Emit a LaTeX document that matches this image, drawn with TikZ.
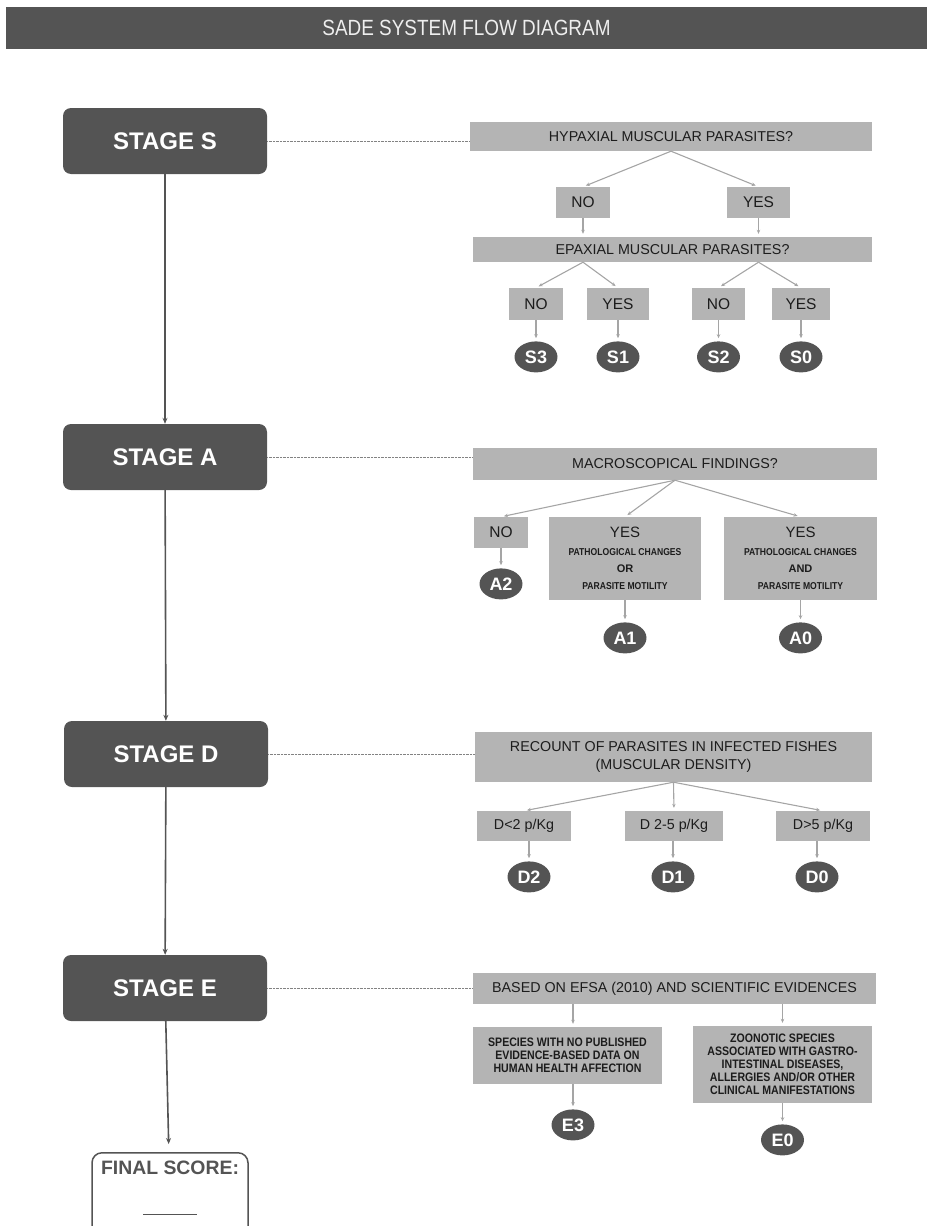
\documentclass[tikz,border=0pt]{standalone}
\usepackage{fontspec}
\setmainfont{Liberation Sans}
\newfontfamily\narrowfont[FakeStretch=0.86]{Liberation Sans}
\usetikzlibrary{positioning, shapes.geometric, arrows.meta}
\definecolor{stagegray}{RGB}{84,84,84}
\definecolor{boxgray}{RGB}{180,180,180}
\definecolor{textdark}{RGB}{28,28,28}
\definecolor{linegray}{RGB}{165,165,165}
\definecolor{dotgray}{RGB}{130,130,130}
\definecolor{titletext}{RGB}{238,238,238}

\begin{document}
\begin{tikzpicture}[
    x=1pt, y=-1pt,
    titlebar/.style={rectangle, fill=stagegray, text=titletext, minimum width=921pt, minimum height=42pt, font=\narrowfont\fontsize{22}{24}\selectfont},
    stagebox/.style={rectangle, rounded corners=8pt, fill=stagegray, text=white, minimum width=204pt, minimum height=66pt, font=\fontsize{24}{28}\selectfont\bfseries},
    finalbox/.style={rectangle, rounded corners=10pt, draw=stagegray, line width=1.5pt, fill=white, text=stagegray, minimum width=156pt, inner ysep=8pt, text depth=25pt, align=center, font=\fontsize{19.4}{22}\selectfont\bfseries},
    qbox/.style={rectangle, fill=boxgray, text=textdark, inner sep=0pt, align=center, font=\fontsize{14.3}{18}\selectfont},
    ansbox/.style={qbox, font=\fontsize{15.5}{18}\selectfont},
    notebox/.style={qbox, font=\narrowfont\fontsize{12.3}{13}\selectfont\bfseries},
    score/.style={ellipse, fill=stagegray, text=white, minimum width=43pt, minimum height=31pt, inner sep=0pt, font=\fontsize{18}{20}\selectfont\bfseries},
    link/.style={draw=dotgray, line width=0.9pt, dash pattern=on 0.7pt off 0.7pt},
    fork/.style={draw=linegray, line width=1.1pt, -{Stealth[length=4pt,width=3.5pt]}, shorten >=3pt},
    arrow/.style={draw=stagegray, line width=1.6pt, -{Stealth[length=6pt,width=5pt]}}
]
\useasboundingbox (0,0) rectangle (927,1226);

% Title
\node[titlebar] (title) at (466.5,28) {SADE SYSTEM FLOW DIAGRAM};

% Stages
\node[stagebox] (stS) at (165,141) {STAGE S};
\node[stagebox] (stA) at (165,457) {STAGE A};
\node[stagebox] (stD) at (166,754) {STAGE D};
\node[stagebox] (stE) at (165,988) {STAGE E};
\node[finalbox, anchor=north] (final) at (170,1152) {FINAL SCORE:\\[19pt]\rule{54pt}{1.2pt}};

\draw[arrow] (stS) -- (stA);
\draw[arrow] (stA) -- (stD);
\draw[arrow] (stD) -- (stE);
\draw[arrow, shorten >=8pt] (stE) -- (final);

% Stage S
\node[qbox, minimum width=402pt, minimum height=29pt] (hyp) at (671,136.5) {HYPAXIAL MUSCULAR PARASITES?};
\node[ansbox, minimum width=54pt, minimum height=31pt] (hypNo) at (583,202.5) {NO};
\node[ansbox, minimum width=63pt, minimum height=31pt] (hypYes) at (758.5,202.5) {YES};
\node[qbox, minimum width=399pt, minimum height=25pt] (epax) at (672.5,249.5) {EPAXIAL MUSCULAR PARASITES?};
\node[ansbox, minimum width=54pt, minimum height=32pt] (epNoA) at (536,304) {NO};
\node[ansbox, minimum width=62pt, minimum height=32pt] (epYesA) at (618,304) {YES};
\node[ansbox, minimum width=53pt, minimum height=32pt] (epNoB) at (718.5,304) {NO};
\node[ansbox, minimum width=58pt, minimum height=32pt] (epYesB) at (801,304) {YES};
\node[score, below=21pt of epNoA] (s3) {S3};
\node[score, below=21pt of epYesA] (s1) {S1};
\node[score, below=21pt of epNoB] (s2) {S2};
\node[score, below=21pt of epYesB] (s0) {S0};

\draw[link] (stS.east) -- (stS.east -| hyp.west);
\draw[fork] (hyp.south) -- (hypNo.north);
\draw[fork] (hyp.south) -- (hypYes.north);
\draw[fork] (hypNo.south) -- (hypNo.south |- epax.north);
\draw[fork] (hypYes.south) -- (hypYes.south |- epax.north);
\draw[fork] (epax.south -| hypNo) -- (epNoA.north);
\draw[fork] (epax.south -| hypNo) -- (epYesA.north);
\draw[fork] (epax.south -| hypYes) -- (epNoB.north);
\draw[fork] (epax.south -| hypYes) -- (epYesB.north);
\draw[fork] (epNoA.south) -- (s3.north);
\draw[fork] (epYesA.south) -- (s1.north);
\draw[fork] (epNoB.south) -- (s2.north);
\draw[fork] (epYesB.south) -- (s0.north);

% Stage A
\node[qbox, minimum width=404pt, minimum height=32pt] (macro) at (675,464) {MACROSCOPICAL FINDINGS?};
\node[ansbox, minimum width=54pt, minimum height=31pt] (macNo) at (501,532.5) {NO};
\node[qbox, minimum width=152pt, minimum height=83pt, font=\fontsize{10}{17.3}\selectfont] (macOr) at (625,558.5)
    {{\fontsize{15}{17.3}\selectfont YES}\\{\narrowfont\bfseries PATHOLOGICAL CHANGES}\\{\bfseries\fontsize{11}{17.3}\selectfont OR}\\{\narrowfont\bfseries PARASITE MOTILITY}};
\node[qbox, minimum width=153pt, minimum height=83pt, font=\fontsize{10}{17.3}\selectfont] (macAnd) at (800.5,558.5)
    {{\fontsize{15}{17.3}\selectfont YES}\\{\narrowfont\bfseries PATHOLOGICAL CHANGES}\\{\bfseries\fontsize{11}{17.3}\selectfont AND}\\{\narrowfont\bfseries PARASITE MOTILITY}};
\node[score, below=20pt of macNo] (a2) {A2};
\node[score, below=22pt of macOr] (a1) {A1};
\node[score, below=22pt of macAnd] (a0) {A0};

\draw[link] (stA.east) -- (stA.east -| macro.west);
\draw[fork] (macro.south) -- (macNo.north);
\draw[fork] (macro.south) -- (macOr.north);
\draw[fork] (macro.south) -- (macAnd.north);
\draw[fork] (macNo.south) -- (a2.north);
\draw[fork] (macOr.south) -- (a1.north);
\draw[fork] (macAnd.south) -- (a0.north);

% Stage D
\node[qbox, minimum width=397pt, minimum height=50pt] (recount) at (673.5,757) {RECOUNT OF PARASITES IN INFECTED FISHES\\(MUSCULAR DENSITY)};
\node[qbox, minimum width=94pt, minimum height=30pt] (dLow) at (524,826) {D<2 p/Kg};
\node[qbox, minimum width=98pt, minimum height=30pt] (dMid) at (674,826) {D 2-5 p/Kg};
\node[qbox, minimum width=94pt, minimum height=30pt] (dHigh) at (823,826) {D>5 p/Kg};
\node[score, below=20pt of dLow, xshift=5pt] (d2) {D2};
\node[score, below=20pt of dMid, xshift=-1pt] (d1) {D1};
\node[score, below=20pt of dHigh, xshift=-6pt] (d0) {D0};

\draw[link] (stD.east) -- (stD.east -| recount.west);
\draw[fork] (recount.south) -- (dLow.north);
\draw[fork] (recount.south) -- (dMid.north);
\draw[fork] (recount.south) -- (dHigh.north);
\draw[fork] (dLow.south -| d2) -- (d2.north);
\draw[fork] (dMid.south -| d1) -- (d1.north);
\draw[fork] (dHigh.south -| d0) -- (d0.north);

% Stage E
\node[qbox, minimum width=403pt, minimum height=31pt] (efsa) at (674.5,988.5) {BASED ON EFSA (2010) AND SCIENTIFIC EVIDENCES};
\node[notebox, minimum width=189pt, minimum height=57pt] (eNone) at (567.5,1055.5) {SPECIES WITH NO PUBLISHED\\EVIDENCE-BASED DATA ON\\HUMAN HEALTH AFFECTION};
\node[notebox, minimum width=179pt, minimum height=77pt] (eZoo) at (782.5,1064.5) {ZOONOTIC SPECIES\\ASSOCIATED WITH GASTRO-\\INTESTINAL DISEASES,\\ALLERGIES AND/OR OTHER\\CLINICAL MANIFESTATIONS};
\node[score, below=25pt of eNone, xshift=5.5pt] (e3) {E3};
\node[score, below=21pt of eZoo] (e0) {E0};

\draw[link] (stE.east) -- (stE.east -| efsa.west);
\draw[fork] (efsa.south -| e3) -- (eNone.north -| e3);
\draw[fork] (efsa.south -| e0) -- (eZoo.north -| e0);
\draw[fork] (eNone.south -| e3) -- (e3.north);
\draw[fork] (eZoo.south) -- (e0.north);

\end{tikzpicture}
\end{document}
